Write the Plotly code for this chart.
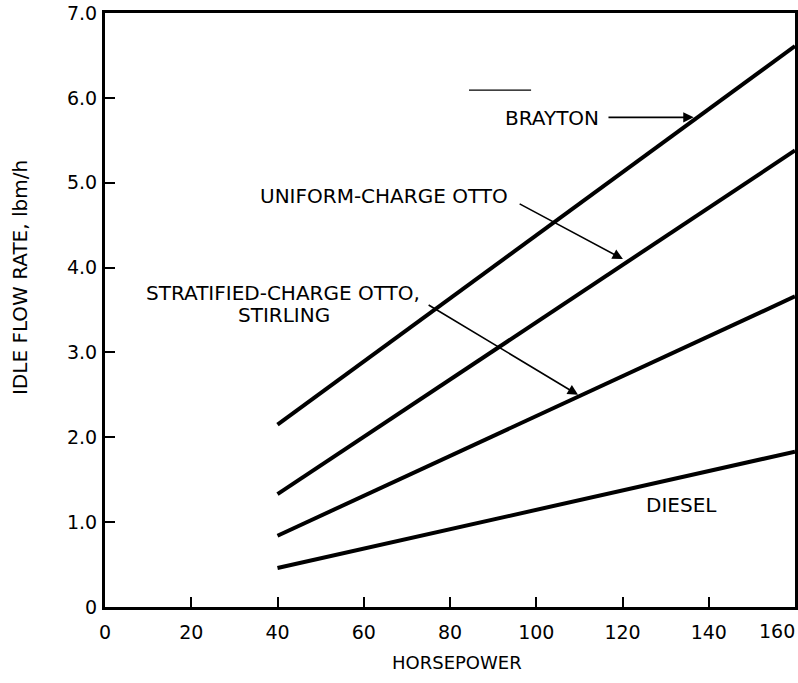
import plotly.graph_objects as go

# Idle fuel flow rate vs. engine horsepower, by engine type
horsepower = [40, 160]
brayton = [2.15, 6.61]
uniform_otto = [1.33, 5.38]
stratified_otto = [0.84, 3.66]
diesel = [0.46, 1.83]

x_ticks = [0, 20, 40, 60, 80, 100, 120, 140, 160]
x_tick_text = ["0", "20", "40", "60", "80", "100", "120", "140", ""]
y_ticks = [0, 1, 2, 3, 4, 5, 6, 7]
y_tick_text = ["0", "1.0", "2.0", "3.0", "4.0", "5.0", "6.0", "7.0"]

FONT = "DejaVu Sans"
INK = "black"

fig = go.Figure()
for series in (brayton, uniform_otto, stratified_otto, diesel):
    fig.add_trace(go.Scatter(
        x=horsepower, y=series, mode="lines",
        line=dict(color=INK, width=4), showlegend=False, hoverinfo="skip",
    ))

label_font = dict(family=FONT, size=20, color=INK)
centered = dict(showarrow=False, font=label_font, xanchor="center", yanchor="middle")

# Curve labels
fig.add_annotation(x=103.6, y=5.76, text="BRAYTON", **centered)
fig.add_annotation(x=64.7, y=4.84, text="UNIFORM-CHARGE OTTO", **centered)
fig.add_annotation(x=41.3, y=3.70, text="STRATIFIED-CHARGE OTTO,", **centered)
fig.add_annotation(x=41.4, y=3.44, text="STIRLING", **centered)
fig.add_annotation(x=133.6, y=1.20, text="DIESEL", **centered)

# Leader arrows pointing to the curves
arrow_style = dict(showarrow=True, arrowhead=2, arrowsize=1.3, arrowwidth=1.6,
                   arrowcolor=INK, axref="x", ayref="y", text="")
fig.add_annotation(x=136.5, y=5.77, ax=116.4, ay=5.77, **arrow_style)
fig.add_annotation(x=120.1, y=4.10, ax=95.8, ay=4.76, **arrow_style)
fig.add_annotation(x=109.7, y=2.50, ax=74.7, ay=3.57, **arrow_style)

# Short rule above the Brayton label
fig.add_shape(type="line", x0=84.4, x1=98.8, y0=6.09, y1=6.09,
              line=dict(color=INK, width=1.2))

# Last x tick label sits flush with the right frame
fig.add_annotation(xref="x", yref="paper", x=x_ticks[-1], y=-0.041,
                   xanchor="right", yanchor="middle", xshift=2,
                   text=str(x_ticks[-1]), showarrow=False,
                   font=dict(family=FONT, size=19, color=INK))

# Axis titles
fig.add_annotation(xref="paper", yref="paper", x=-0.123, y=0.554,
                   xanchor="center", yanchor="middle",
                   text="IDLE FLOW RATE, lbm/h", textangle=-90, showarrow=False,
                   font=dict(family=FONT, size=20, color=INK))
fig.add_annotation(xref="paper", yref="paper", x=0.510, y=-0.094,
                   xanchor="center", yanchor="middle",
                   text="HORSEPOWER", showarrow=False,
                   font=dict(family=FONT, size=18, color=INK))

axis_common = dict(
    showgrid=False, zeroline=False, showline=True, mirror=True, automargin=False,
    linecolor=INK, linewidth=3, ticks="inside", ticklen=10, tickwidth=2,
    tickcolor=INK, tickfont=dict(family=FONT, size=19, color=INK),
)

fig.update_xaxes(range=[0, 160], tickvals=x_ticks, ticktext=x_tick_text,
                 ticklabelstandoff=6, **axis_common)
fig.update_yaxes(range=[0, 7], tickvals=y_ticks, ticktext=y_tick_text,
                 ticklabelstandoff=1, **axis_common)

fig.update_layout(
    width=798, height=683,
    margin=dict(l=105, r=3, t=13, b=76),
    paper_bgcolor="white", plot_bgcolor="white",
    font=dict(family=FONT, color=INK),
)

fig.write_html("out.html")
